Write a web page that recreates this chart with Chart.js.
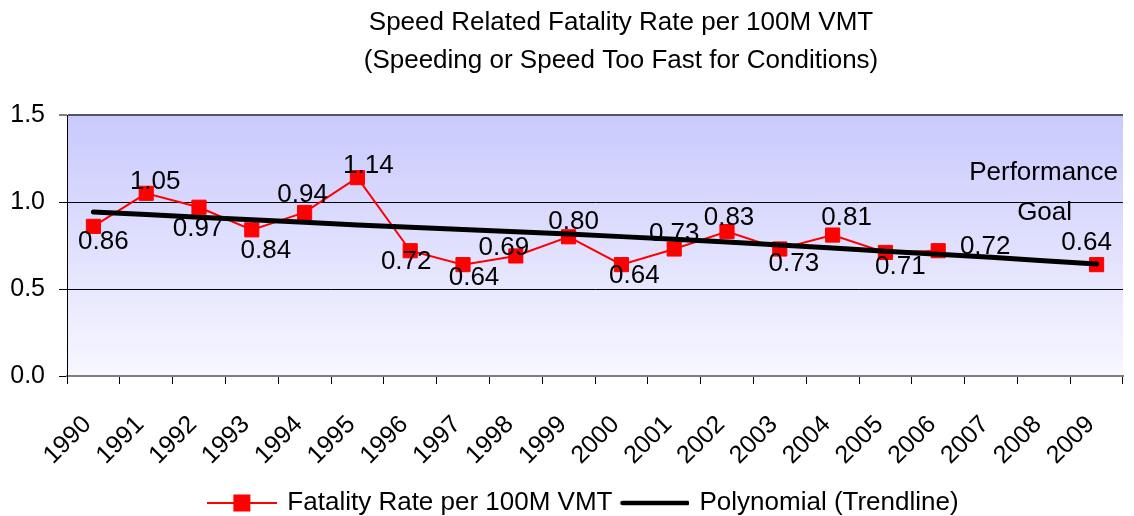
<!DOCTYPE html>
<html><head><meta charset="utf-8">
<script src="https://cdn.jsdelivr.net/npm/chart.js@4/dist/chart.umd.min.js"></script>
<style>html,body{margin:0;padding:0;background:#fff;overflow:hidden}</style>
</head><body>
<canvas id="c" width="1134" height="516"></canvas>
<script>
const years = ['1990','1991','1992','1993','1994','1995','1996','1997','1998','1999','2000','2001','2002','2003','2004','2005','2006','2007','2008','2009'];
const fatalityRate = [0.86,1.05,0.97,0.84,0.94,1.14,0.72,0.64,0.69,0.80,0.64,0.73,0.83,0.73,0.81,0.71,0.72,null,null,0.64];
const trendline = [0.943,0.928,0.913,0.898,0.883,0.868,0.855,0.842,0.829,0.816,0.801,0.786,0.770,0.753,0.735,0.717,0.700,0.682,0.663,0.644];
const yTicks = [0, 0.5, 1.0, 1.5];
const titleLines = ['Speed Related Fatality Rate per 100M VMT', '(Speeding or Speed Too Fast for Conditions)'];
const goalNote = ['Performance', 'Goal'];
const seriesNames = ['Fatality Rate per 100M VMT', 'Polynomial (Trendline)'];

// label placement (pixel offsets of each value label from its marker)
const labelOffsets = [[10,15],[9,-11],[-1,22],[14,21],[-2,-18],[11,-12],[-4,11],[11,13],[-12,-8],[5,-15],[13,11],[0,-15],[2,-14],[14,15],[14,-17],[15,14],[47,-4],[0,0],[0,0],[-10,-22]];
const FONT = "'Liberation Sans', Arial, sans-serif";

function makeIcon(kind) {
  const cv = document.createElement('canvas');
  cv.width = 70; cv.height = 24;
  const g = cv.getContext('2d');
  if (kind === 'red') {
    g.strokeStyle = '#ff0000'; g.lineWidth = 2;
    g.beginPath(); g.moveTo(0, 12); g.lineTo(70, 12); g.stroke();
    g.fillStyle = '#ff0000'; g.fillRect(26, 3.5, 17, 17);
  } else {
    g.strokeStyle = '#000'; g.lineWidth = 4.5; g.lineCap = 'round';
    g.beginPath(); g.moveTo(3, 12); g.lineTo(68, 12); g.stroke();
  }
  return cv;
}
const icons = [makeIcon('red'), makeIcon('black')];

const bgPlugin = {
  id: 'bg',
  afterLayout(chart) {
    if (chart.legend) chart.legend.left = 35;
  },
  beforeDraw(chart) {
    const {ctx, chartArea: a} = chart;
    const gr = ctx.createLinearGradient(0, a.top, 0, a.bottom);
    gr.addColorStop(0, '#c9c9fd');
    gr.addColorStop(1, '#f7f7ff');
    ctx.save(); ctx.fillStyle = gr; ctx.fillRect(a.left, a.top, a.right - a.left, a.bottom - a.top); ctx.restore();
  }
};

const titlePlugin = {
  id: 'title2',
  afterDraw(chart) {
    const ctx = chart.ctx;
    ctx.save();
    ctx.fillStyle = '#000';
    ctx.font = '26px ' + FONT;
    ctx.textAlign = 'center'; ctx.textBaseline = 'alphabetic';
    ctx.fillText(titleLines[0], 621, 30);
    ctx.fillText(titleLines[1], 621, 68);
    ctx.restore();
  }
};

const labelPlugin = {
  id: 'vals',
  afterDatasetsDraw(chart) {
    const ctx = chart.ctx;
    const meta = chart.getDatasetMeta(0);
    ctx.save();
    ctx.fillStyle = '#000';
    ctx.font = '26px ' + FONT;
    ctx.textAlign = 'center'; ctx.textBaseline = 'middle';
    fatalityRate.forEach((v, i) => {
      if (v === null) return;
      const el = meta.data[i];
      ctx.fillText(v.toFixed(2), el.x + labelOffsets[i][0], el.y + labelOffsets[i][1]);
    });
    const last = meta.data[fatalityRate.length - 1];
    ctx.fillText(goalNote[0], last.x - 53, last.y - 92);
    ctx.fillText(goalNote[1], last.x - 52, last.y - 52);
    ctx.restore();
  }
};

new Chart(document.getElementById('c'), {
  type: 'line',
  data: {
    labels: years,
    datasets: [
      {
        label: seriesNames[0], data: fatalityRate,
        borderColor: '#ff0000', backgroundColor: '#ff0000', borderWidth: 2,
        pointStyle: 'rect', pointRadius: 10, pointBorderWidth: 1,
        pointBackgroundColor: '#ff0000', pointBorderColor: '#ff0000',
        spanGaps: false, tension: 0, order: 2
      },
      {
        label: seriesNames[1], data: trendline,
        borderColor: '#000', borderWidth: 5, pointRadius: 0,
        borderCapStyle: 'round', borderJoinStyle: 'round', tension: 0, order: 1
      }
    ]
  },
  options: {
    responsive: false, animation: false, events: [],
    layout: { padding: { top: 115, left: 0, right: 0, bottom: -10 } },
    plugins: {
      title: { display: false },
      tooltip: { enabled: false },
      legend: {
        position: 'bottom',
        labels: {
          usePointStyle: true, pointStyleWidth: 64, padding: 10,
          color: '#000', font: { family: FONT, size: 26 },
          generateLabels: chart => chart.data.datasets.map((ds, i) => ({
            text: ds.label, pointStyle: icons[i], fillStyle: 'transparent',
            strokeStyle: 'transparent', lineWidth: 0, hidden: false, datasetIndex: i, fontColor: '#000'
          }))
        }
      }
    },
    scales: {
      x: {
        type: 'category', offset: true,
        grid: { offset: true, drawOnChartArea: false, color: '#000', tickColor: '#000', tickLength: 8, lineWidth: 1 },
        border: { color: '#808080', width: 2 },
        ticks: { autoSkip: false, minRotation: 45, maxRotation: 45, padding: 26, labelOffset: -6, color: '#000', font: { family: FONT, size: 25 } },
        afterFit: s => { s.height = 104; s.paddingLeft = 0; s.paddingRight = 0; }
      },
      y: {
        min: 0, max: 1.5,
        afterBuildTicks: s => { s.ticks = yTicks.map(v => ({ value: v })); },
        ticks: { padding: 14, color: '#000', font: { family: FONT, size: 25 }, callback: v => Number(v).toFixed(1) },
        grid: {
          color: c => (c.tick && c.tick.value === 1.5) ? '#555566' : (c.tick && c.tick.value === 0 ? 'rgba(0,0,0,0)' : '#000'),
          lineWidth: c => (c.tick && c.tick.value === 1.5) ? 2 : 1,
          tickColor: '#000', tickWidth: 1, tickLength: 8
        },
        border: { color: '#000', width: 1 },
        afterFit: s => { s.width = 67; s.paddingTop = 0; s.paddingBottom = 0; }
      }
    }
  },
  plugins: [bgPlugin, titlePlugin, labelPlugin]
});
</script>
</body></html>
